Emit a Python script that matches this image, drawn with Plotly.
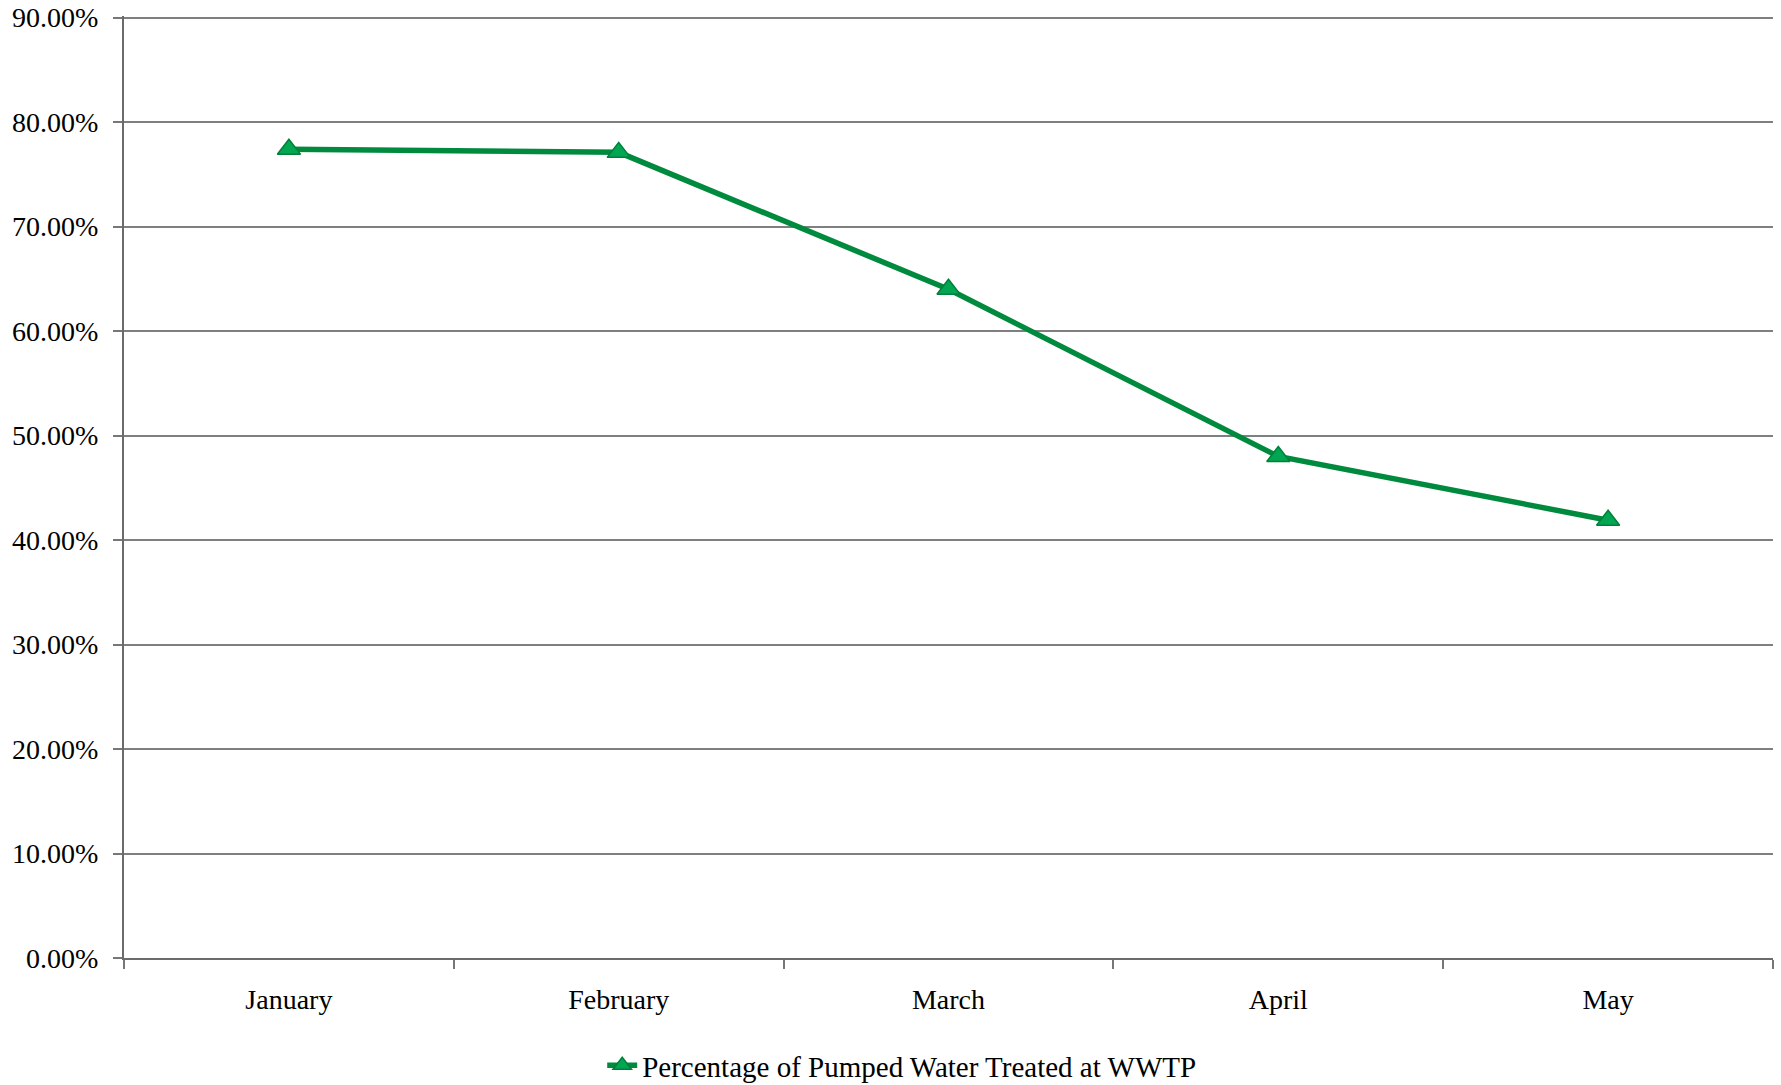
import plotly.graph_objects as go

months = ["January", "February", "March", "April", "May"]
pct_treated = [0.774, 0.771, 0.640, 0.480, 0.419]
y_ticks = [0, 0.1, 0.2, 0.3, 0.4, 0.5, 0.6, 0.7, 0.8, 0.9]
series_name = "Percentage of Pumped Water Treated at WWTP"

FONT = "Liberation Serif, DejaVu Serif, serif"

fig = go.Figure()
fig.add_trace(go.Scatter(
    x=months, y=pct_treated, mode="lines+markers", name=series_name,
    line=dict(color="#008A3E", width=5.5),
    marker=dict(symbol="triangle-up", size=20, color="#00A651",
                line=dict(color="#00803A", width=1.5)),
))

fig.update_layout(
    width=1781, height=1120,
    margin=dict(l=124, r=8, t=16, b=162),
    paper_bgcolor="white", plot_bgcolor="white",
    font=dict(family=FONT, size=28, color="black"),
    showlegend=True,
    legend=dict(orientation="h", x=0.29, xanchor="left", y=-0.087, yanchor="top",
                font=dict(size=29), itemwidth=30),
    xaxis=dict(
        type="category", tickson="boundaries", ticks="outside", ticklen=9,
        tickwidth=2, tickcolor="#777777", showline=True, linecolor="#6b6b6b",
        linewidth=2, showgrid=False, range=[-0.5, 4.5], ticklabelstandoff=15,
        automargin=False,
    ),
    yaxis=dict(
        range=[0, 0.9015], tickvals=y_ticks, tickformat=".2%", ticks="outside",
        ticklen=9, tickwidth=2, tickcolor="#777777", showline=True,
        linecolor="#6b6b6b", linewidth=2, showgrid=True, gridcolor="#7f7f7f",
        gridwidth=1.5, zeroline=False, ticklabelstandoff=9, automargin=False,
        ticklabeloverflow="allow",
    ),
)

fig.write_html(
    "out.html",
    config={"displayModeBar": False},
    post_script="document.body.style.margin='0px';document.body.style.overflow='hidden';",
)
